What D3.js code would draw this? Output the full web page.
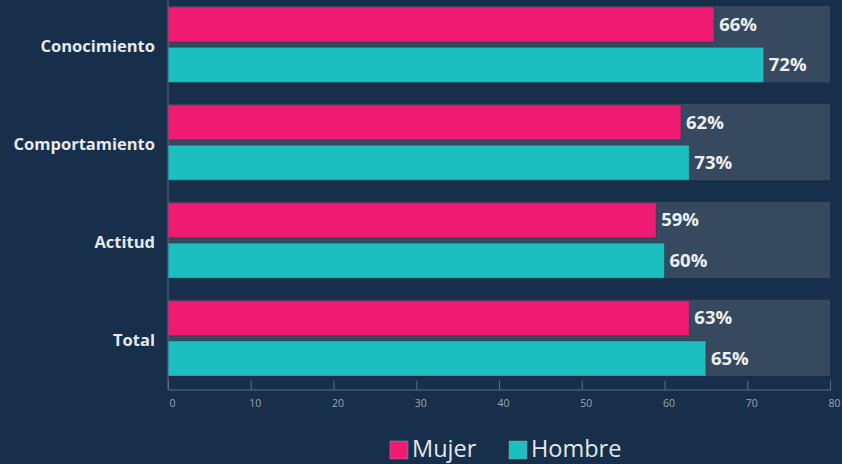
<!DOCTYPE html>
<html>
<head>
<meta charset="utf-8">
<script src="https://cdn.jsdelivr.net/npm/d3@7"></script>
<style>
    body { margin: 0; background: #172f4a; }
    svg { display: block; }
</style>
</head>
<body>
<div id="chart"></div>
<script>
    // Canvas dimensions
    var width = 842, height = 464;

    // Data
    var categories = ['Conocimiento', 'Comportamiento', 'Actitud', 'Total'];
    var seriesNames = ['Mujer', 'Hombre'];
    // bar lengths as drawn in the picture
    var mujerValues = [66, 62, 59, 63];
    var hombreValues = [72, 63, 60, 65];
    // labels as printed (the Comportamiento / Hombre label reads 73%)
    var mujerLabels = ['66%', '62%', '59%', '63%'];
    var hombreLabels = ['72%', '73%', '60%', '65%'];
    var tickValues = [0, 10, 20, 30, 40, 50, 60, 70, 80];

    var colors = {
        'Mujer': '#ef1b73',
        'Hombre': '#1bbfc0'
    };

    var rows = categories.map(function(c, i) {
        return { category: c, values: [
            { name: 'Mujer', value: mujerValues[i], label: mujerLabels[i] },
            { name: 'Hombre', value: hombreValues[i], label: hombreLabels[i] }
        ]};
    });

    var svg = d3.select('#chart')
        .append('svg')
        .attr('width', width)
        .attr('height', height);

    var x = d3.scaleLinear().domain([0, 80]).range([168, 830]);

    var y = d3.scaleBand()
        .domain(categories)
        .range([6, 376])
        .paddingInner(0.22);

    // pink on top, teal below, small gap between them
    var yInner = d3.scaleBand()
        .domain(seriesNames)
        .range([1, y.bandwidth()])
        .paddingInner(0.13);

    var groups = svg.selectAll('g.group')
        .data(rows)
        .enter().append('g')
        .attr('class', 'group')
        .attr('transform', function(d) { return 'translate(0,' + y(d.category) + ')'; });

    // grey background track for the full 0-80 range
    groups.append('rect')
        .attr('x', x(0))
        .attr('y', 0)
        .attr('width', x(80) - x(0))
        .attr('height', y.bandwidth())
        .attr('fill', '#37495e');

    groups.selectAll('rect.bar')
        .data(function(d) { return d.values; })
        .enter().append('rect')
        .attr('class', 'bar')
        .attr('x', x(0))
        .attr('y', function(d) { return yInner(d.name); })
        .attr('width', function(d) { return x(d.value) - x(0); })
        .attr('height', yInner.bandwidth())
        .attr('fill', function(d) { return colors[d.name]; })
        .attr('stroke', 'rgba(20,40,60,0.35)')
        .attr('stroke-width', 1);

    groups.selectAll('text.value')
        .data(function(d) { return d.values; })
        .enter().append('text')
        .attr('class', 'value')
        .attr('x', function(d) { return x(d.value) + 5; })
        .attr('y', function(d) { return yInner(d.name) + yInner.bandwidth() / 2; })
        .attr('dy', '0.33em')
        .attr('font-family', 'Open Sans')
        .attr('font-weight', 'bold')
        .attr('font-size', 18.5)
        .attr('fill', '#eceff2')
        .text(function(d) { return d.label; });

    // Category labels
    groups.append('text')
        .attr('x', 155)
        .attr('y', y.bandwidth() / 2 + 2)
        .attr('dy', '0.35em')
        .attr('text-anchor', 'end')
        .attr('font-family', 'Open Sans')
        .attr('font-weight', 'bold')
        .attr('font-size', 16.5)
        .attr('fill', '#e6e9ec')
        .text(function(d) { return d.category; });

    // Left axis line
    svg.append('line')
        .attr('x1', x(0)).attr('x2', x(0))
        .attr('y1', 0).attr('y2', 390)
        .attr('stroke', '#5d6e82');

    // Bottom axis, ticks pointing up
    var xAxis = d3.axisBottom(x)
        .tickValues(tickValues)
        .tickSize(-9)
        .tickPadding(8);

    var axisG = svg.append('g')
        .attr('transform', 'translate(0,389.5)')
        .call(xAxis);

    axisG.select('.domain').attr('stroke', '#5d6e82');
    axisG.selectAll('.tick line').attr('stroke', '#5d6e82');
    axisG.selectAll('.tick text')
        .attr('fill', '#9aa6b4')
        .attr('font-family', 'Open Sans')
        .attr('font-size', 10.5)
        .attr('dy', '0.9em')
        .attr('dx', 4);

    // Legend
    var legend = svg.append('g').attr('class', 'legend');
    var legendX = { 'Mujer': 390, 'Hombre': 509 };

    seriesNames.forEach(function(name) {
        legend.append('rect')
            .attr('x', legendX[name])
            .attr('y', 441)
            .attr('width', 18)
            .attr('height', 18)
            .attr('fill', colors[name])
            .attr('stroke', '#8a96a4')
            .attr('stroke-width', 0.5);
        legend.append('text')
            .attr('x', legendX[name] + 22)
            .attr('y', 449)
            .attr('dy', '0.36em')
            .attr('font-family', 'Open Sans')
            .attr('font-size', 23.5)
            .attr('fill', '#e3e7eb')
            .text(name);
    });
</script>
</body>
</html>
